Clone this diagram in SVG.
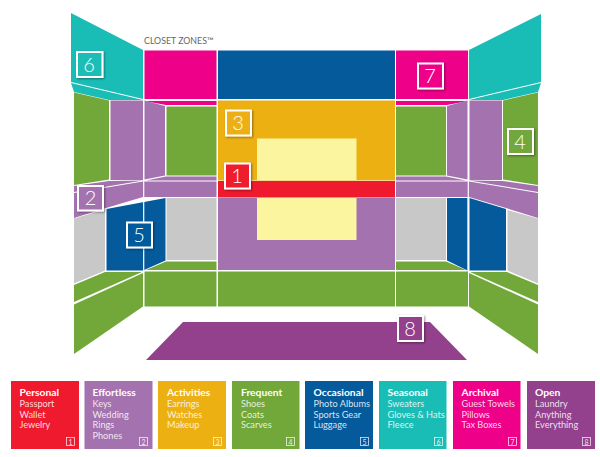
<svg xmlns="http://www.w3.org/2000/svg" width="600" height="457" viewBox="0 0 600 457">
<style>
.red{fill:#ef1a2e}.pur{fill:#a572b0}.ora{fill:#ecb012}.gre{fill:#72a73a}.blu{fill:#055a9b}.tea{fill:#1abdb5}.mag{fill:#ee0089}.vio{fill:#93408d}.yel{fill:#fbf5a0}.gry{fill:#c8c8c8}
text{font-family:"Lato","Liberation Sans",sans-serif;fill:#fff}
.hd{font-size:10.3px;font-weight:700}
.it{font-size:9.2px;fill:#fff;fill-opacity:.85}
.bx{stroke:#fff;stroke-width:2}
.nm{font-size:20px;text-anchor:middle;font-weight:300}
.sm{fill:none;stroke:#fff;stroke-width:.8;stroke-opacity:.85}
.sn{font-size:7px;text-anchor:middle;fill-opacity:.85}
.div{stroke:#fff;stroke-width:1.200;fill:none}
</style>
<defs><filter id="sh" x="-30%" y="-30%" width="170%" height="170%"><feDropShadow dx="1" dy="1" stdDeviation="1.2" flood-color="#000" flood-opacity=".4"/></filter></defs>
<g id="room">
<polygon class="tea" points="71,13 143,50 143,99 71,82"/>
<polygon class="tea" points="71,83 143,100 109,100 74,92"/>
<polygon class="tea" points="541,14 469,50 469,99 541,82"/>
<polygon class="tea" points="541,83 469,100 503,100 538,92"/>
<rect class="mag" x="144.500" y="50.500" width="72" height="48.500"/>
<polygon class="mag" points="144.500,101 216.500,101 216.500,105 166,105"/>
<rect class="mag" x="396" y="50.500" width="72" height="48.500"/>
<polygon class="mag" points="396,101 468,101 447,105 396,105"/>
<rect class="blu" x="218" y="50.500" width="177" height="48.500"/>
<rect class="ora" x="218" y="100.500" width="177" height="80"/>
<rect class="red" x="218" y="181" width="177" height="16.500"/>
<rect class="pur" x="218" y="198" width="177" height="72"/>
<rect class="yel" x="257" y="138.500" width="99.500" height="41.500"/>
<rect class="yel" x="257" y="198" width="99.500" height="42"/>
<rect class="gre" x="218" y="271.500" width="177" height="35"/>
<polygon class="gre" points="74,92.500 109,100.500 109,179.500 74,185"/>
<rect class="pur" x="110.500" y="100.500" width="32.500" height="79.500"/>
<polygon class="pur" points="144.500,100.500 165,106 165,175.500 144.500,179.500"/>
<rect class="gre" x="166.500" y="106.500" width="50" height="69"/>
<polygon class="pur" points="74,186 109,181 143,180.500 74,192"/>
<polygon class="pur" points="146,180.500 166,176.500 216.500,176.500 216.500,180.500"/>
<polygon class="pur" points="74,193 143,181.500 216.500,181.500 216.500,197 143,197 106,208 74,218"/>
<rect class="gry" x="166.500" y="198" width="50" height="62"/>
<polygon class="blu" points="106.500,209 165.500,198 165.500,260.500 143,270.500 106.500,270.500"/>
<polygon class="gry" points="74,218.500 105,209.500 105,270.500 74,283.500"/>
<polygon class="gre" points="166,261.500 216.500,261.500 216.500,270 146,270"/>
<rect class="gre" x="144.500" y="271.500" width="72" height="35"/>
<polygon class="gre" points="74,285 105,272 142,272 74,302"/>
<polygon class="gre" points="74,304.500 143,273 143,306.500 74,354"/>
<polygon class="gre" points="538,92.500 503,100.500 503,179.500 538,185"/>
<rect class="pur" x="469.500" y="100.500" width="32.500" height="79.500"/>
<polygon class="pur" points="467.500,100.500 447,106 447,175.500 467.500,179.500"/>
<rect class="gre" x="396" y="106.500" width="50" height="69"/>
<polygon class="pur" points="538,186 503,181 469,180.500 538,192"/>
<polygon class="pur" points="466,180.500 446,176.500 396,176.500 396,180.500"/>
<polygon class="pur" points="538,193 469,181.500 396,181.500 396,197 469,197 506,208 538,218"/>
<rect class="gry" x="396" y="198" width="50" height="62"/>
<polygon class="blu" points="447,198 467.500,198 467.500,270.500 447,260.500"/>
<polygon class="blu" points="469.500,198 506,209 506,270.500 469.500,270.500"/>
<polygon class="gry" points="507.500,210 538,218.500 538,283.500 507.500,270.500"/>
<polygon class="gre" points="446,261.500 396,261.500 396,270 466,270"/>
<rect class="gre" x="396" y="271.500" width="72" height="35"/>
<polygon class="gre" points="538,285 507,272 470,272 538,302"/>
<polygon class="gre" points="538,304.500 469,273 469,306.500 538,354"/>
<polygon class="vio" points="183,322 430,322 467,360 146,360"/>
<path class="div" d="M143.700 181V271M468.300 181V271"/>
<text x="144" y="44" font-size="8.800" style="fill:#666">CLOSET ZONES™</text>
</g>
<g id="markers">
<g id="m6"><rect class="tea bx" x="77" y="52" width="25.500" height="25" filter="url(#sh)"/><text class="nm" x="89" y="72">6</text></g>
<g id="m3"><rect class="ora bx" x="226" y="110.500" width="25" height="25" filter="url(#sh)"/><text class="nm" x="238" y="130">3</text></g>
<g id="m1"><rect class="red bx" x="225" y="163.500" width="25" height="25" filter="url(#sh)"/><text class="nm" x="237" y="183">1</text></g>
<g id="m7"><rect class="mag bx" x="418" y="63.500" width="25" height="25" filter="url(#sh)"/><text class="nm" x="430" y="83">7</text></g>
<g id="m4"><rect class="gre bx" x="508" y="129" width="25" height="25" filter="url(#sh)"/><text class="nm" x="520" y="149">4</text></g>
<g id="m2"><rect class="pur bx" x="78" y="186" width="25" height="24.500" filter="url(#sh)"/><text class="nm" x="90.500" y="205">2</text></g>
<g id="m5"><rect class="blu bx" x="127" y="222.500" width="25" height="25" filter="url(#sh)"/><text class="nm" x="139" y="242">5</text></g>
<g id="m8"><rect class="vio bx" x="398" y="316" width="25" height="25" filter="url(#sh)"/><text class="nm" x="410" y="336">8</text></g>
</g>
<g id="l1"><rect class="red" x="11" y="381" width="68" height="68"/><text x="19.500" y="396" class="hd">Personal</text><text x="19.500" y="407" class="it">Passport</text><text x="19.500" y="417.500" class="it">Wallet</text><text x="19.500" y="428" class="it">Jewelry</text><rect class="sm" x="66.500" y="437.500" width="8" height="8"/><text class="sn" x="70.500" y="444.500">1</text></g>
<g id="l2"><rect class="pur" x="84.500" y="381" width="68" height="68"/><text x="92.500" y="396" class="hd">Effortless</text><text x="92.500" y="407" class="it">Keys</text><text x="92.500" y="417.500" class="it">Wedding</text><text x="92.500" y="428" class="it">Rings</text><text x="92.500" y="439" class="it">Phones</text><rect class="sm" x="139.500" y="437.500" width="8" height="8"/><text class="sn" x="143.500" y="444.500">2</text></g>
<g id="l3"><rect class="ora" x="158" y="381" width="68" height="68"/><text x="167" y="396" class="hd">Activities</text><text x="167" y="407" class="it">Earrings</text><text x="167" y="417.500" class="it">Watches</text><text x="167" y="428" class="it">Makeup</text><rect class="sm" x="213.500" y="437.500" width="8" height="8"/><text class="sn" x="217.500" y="444.500">3</text></g>
<g id="l4"><rect class="gre" x="232" y="381" width="67.500" height="68"/><text x="241" y="396" class="hd">Frequent</text><text x="241" y="407" class="it">Shoes</text><text x="241" y="417.500" class="it">Coats</text><text x="241" y="428" class="it">Scarves</text><rect class="sm" x="286.500" y="437.500" width="8" height="8"/><text class="sn" x="290.500" y="444.500">4</text></g>
<g id="l5"><rect class="blu" x="305" y="381" width="68" height="68"/><text x="313.500" y="396" class="hd">Occasional</text><text x="313.500" y="407" class="it">Photo Albums</text><text x="313.500" y="417.500" class="it">Sports Gear</text><text x="313.500" y="428" class="it">Luggage</text><rect class="sm" x="360.500" y="437.500" width="8" height="8"/><text class="sn" x="364.500" y="444.500">5</text></g>
<g id="l6"><rect class="tea" x="379" y="381" width="67.500" height="68"/><text x="387.500" y="396" class="hd">Seasonal</text><text x="387.500" y="407" class="it">Sweaters</text><text x="387.500" y="417.500" class="it">Gloves &amp; Hats</text><text x="387.500" y="428" class="it">Fleece</text><rect class="sm" x="434.500" y="437.500" width="8" height="8"/><text class="sn" x="438.500" y="444.500">6</text></g>
<g id="l7"><rect class="mag" x="453" y="381" width="67.500" height="68"/><text x="461.500" y="396" class="hd">Archival</text><text x="461.500" y="407" class="it">Guest Towels</text><text x="461.500" y="417.500" class="it">Pillows</text><text x="461.500" y="428" class="it">Tax Boxes</text><rect class="sm" x="508.500" y="437.500" width="8" height="8"/><text class="sn" x="512.500" y="444.500">7</text></g>
<g id="l8"><rect class="vio" x="527" y="381" width="68" height="68"/><text x="535" y="396" class="hd">Open</text><text x="535" y="407" class="it">Laundry</text><text x="535" y="417.500" class="it">Anything</text><text x="535" y="428" class="it">Everything</text><rect class="sm" x="582.500" y="437.500" width="8" height="8"/><text class="sn" x="586.500" y="444.500">8</text></g>
</svg>
